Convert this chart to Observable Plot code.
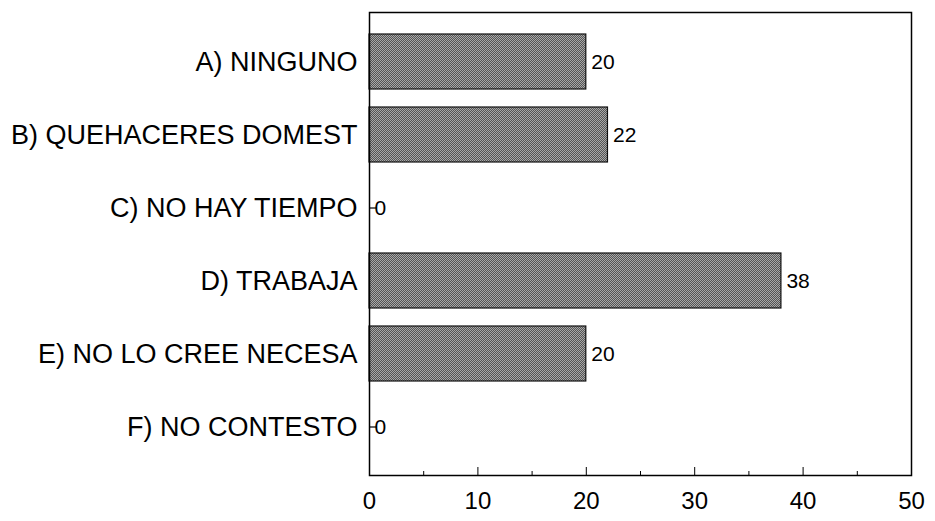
<!DOCTYPE html>
<html>
<head>
<meta charset="utf-8">
<script src="https://cdn.jsdelivr.net/npm/d3@7"></script>
<script src="https://cdn.jsdelivr.net/npm/@observablehq/plot@0.6"></script>
<style>
  html, body { margin: 0; padding: 0; background: #fff; }
  #chart svg { display: block; }
</style>
</head>
<body>
<svg width="0" height="0" style="position:absolute">
  <defs>
    <pattern id="dither" width="2" height="2" patternUnits="userSpaceOnUse">
      <rect width="2" height="2" fill="#555555"></rect>
      <rect x="0" y="0" width="1" height="1" fill="#a8a8a8"></rect>
      <rect x="1" y="1" width="1" height="1" fill="#a8a8a8"></rect>
    </pattern>
  </defs>
</svg>
<div id="chart"></div>
<script>
const categories = ["A) NINGUNO", "B) QUEHACERES DOMEST", "C) NO HAY TIEMPO", "D) TRABAJA", "E) NO LO CREE NECESA", "F) NO CONTESTO"];
const values = [20, 22, 0, 38, 20, 0];
const xTicks = [0, 10, 20, 30, 40, 50];
const xMinorTicks = [5, 15, 25, 35, 45];
const xMajorTicks = [10, 20, 30, 40];

const data = categories.map((c, i) => ({category: c, value: values[i]}));

const W = 935, H = 521;
const mL = 369, mR = 24, mT = 12, mB = 46;
const innerW = W - mL - mR, innerH = H - mT - mB;

const chart = Plot.plot({
  width: W,
  height: H,
  marginLeft: mL,
  marginRight: mR,
  marginTop: mT,
  marginBottom: mB,
  style: {fontFamily: "'Liberation Sans', Arial, sans-serif", background: "#fff", color: "#000"},
  x: {domain: [0, 50], ticks: xTicks},
  y: {domain: categories, padding: 0.24, insetTop: 2},
  marks: [
    Plot.tickY(categories, {y: d => d, stroke: "#000", strokeWidth: 1.2, insetRight: innerW - 8}),
    Plot.tickX(xMajorTicks, {x: d => d, stroke: "#000", strokeWidth: 1, insetTop: innerH - 8}),
    Plot.tickX(xMinorTicks, {x: d => d, stroke: "#000", strokeWidth: 1, insetTop: innerH - 4}),
    Plot.barX(data, {y: "category", x: "value", fill: "url(#dither)", stroke: "#111", strokeWidth: 1.2}),
    Plot.text(data, {y: "category", x: "value", text: d => String(d.value), textAnchor: "start", dx: 5, fontSize: 21, fill: "#000"}),
    Plot.frame({stroke: "#000", strokeWidth: 1.5}),
    Plot.axisY({tickSize: 0, tickPadding: 12, fontSize: 27, label: null}),
    Plot.axisX({ticks: xTicks, tickSize: 0, tickPadding: 16, fontSize: 24, label: null})
  ]
});
document.getElementById("chart").appendChild(chart);
</script>
</body>
</html>
